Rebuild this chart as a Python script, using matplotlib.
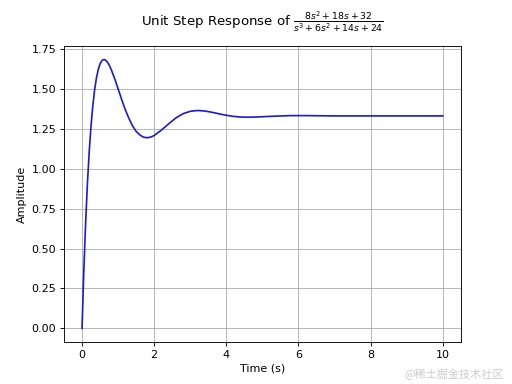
import matplotlib.pyplot as plt

# time points (s) and amplitude
t = [0, 0.05, 0.1, 0.15, 0.2, 0.25, 0.3, 0.35, 0.4, 0.45, 0.5, 0.55, 0.6,
     0.65, 0.7, 0.75, 0.8, 0.9, 1.0, 1.1, 1.2, 1.3, 1.4, 1.5, 1.6, 1.7,
     1.8, 1.9, 2.0, 2.2, 2.4, 2.6, 2.8, 3.0, 3.2, 3.4, 3.6, 3.8, 4.0,
     4.2, 4.4, 4.6, 4.8, 5.0, 5.4, 5.8, 6.2, 6.6, 7.0, 8.0, 9.0, 10.0]
amp = [0.0, 0.365, 0.665, 0.912, 1.112, 1.273, 1.400, 1.499, 1.572, 1.625,
       1.660, 1.680, 1.687, 1.684, 1.672, 1.653, 1.629, 1.570, 1.503,
       1.435, 1.372, 1.317, 1.271, 1.236, 1.214, 1.200, 1.196, 1.200,
       1.210, 1.244, 1.283, 1.320, 1.347, 1.362, 1.367, 1.364, 1.356,
       1.346, 1.337, 1.330, 1.326, 1.325, 1.326, 1.328, 1.332, 1.335,
       1.335, 1.334, 1.333, 1.333, 1.333, 1.333]

fig = plt.figure(figsize=(6.4, 4.8), dpi=80)
plt.plot(t, amp, color='#1a1ad0', linewidth=1.5)
plt.grid(True)
plt.xlabel('Time (s)')
plt.ylabel('Amplitude')
plt.title(r'Unit Step Response of $\frac{8s^2 + 18s + 32}{s^3 + 6s^2 + 14s + 24}$',
          pad=18)
plt.xticks([0, 2, 4, 6, 8, 10])
plt.yticks([0, 0.25, 0.5, 0.75, 1.0, 1.25, 1.5, 1.75])

fig.text(0.985, 0.01, '@稀土掘金技术社区', ha='right', va='bottom',
         color='#cccccc', fontsize=10,
         family=['Noto Sans CJK SC', 'DejaVu Sans'])

plt.savefig('out.png')
